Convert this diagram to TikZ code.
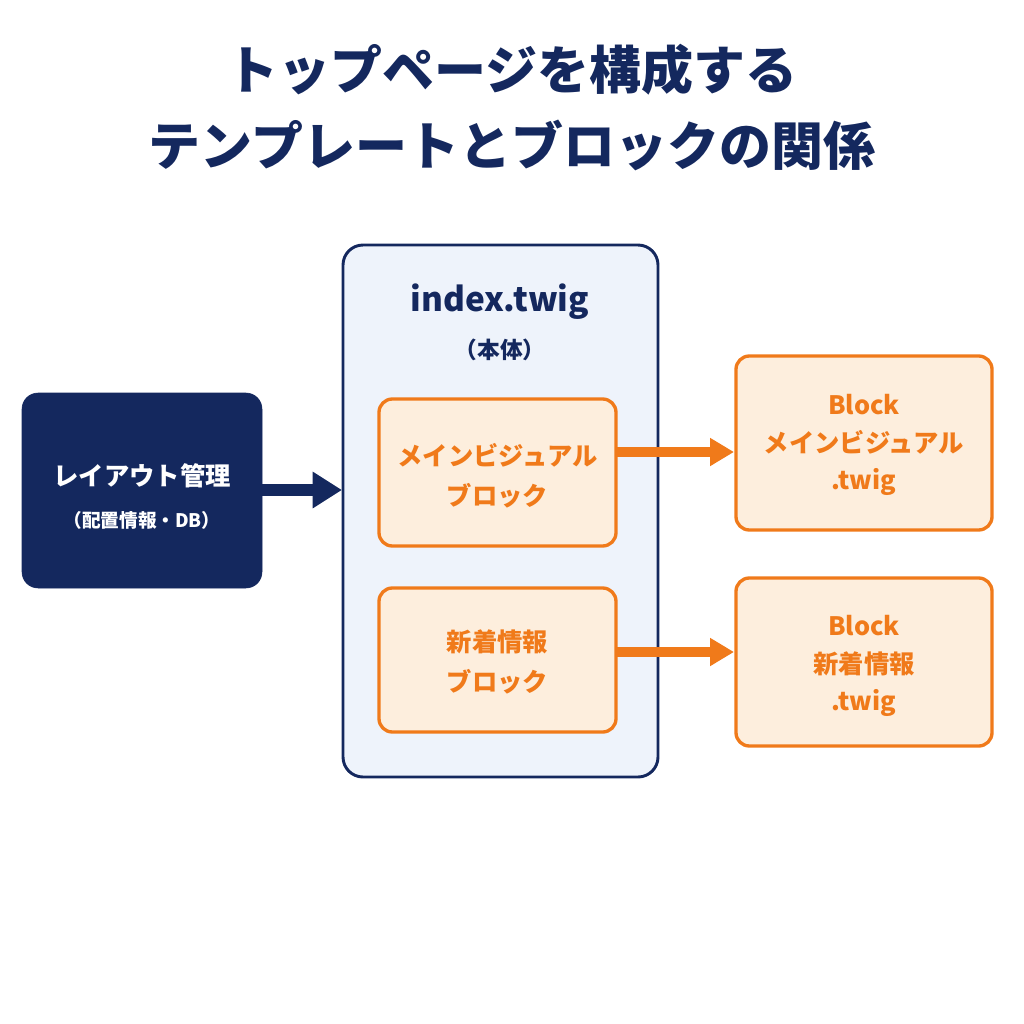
\documentclass[tikz,border=0pt]{standalone}
\usepackage{fontspec}
\setmainfont{Noto Sans CJK JP}
\usetikzlibrary{arrows.meta}
\definecolor{navy}{HTML}{14285E}
\definecolor{orng}{HTML}{F07A1A}
\definecolor{ofill}{HTML}{FDEEDD}
\definecolor{bfill}{HTML}{EEF3FB}
\begin{document}
\begin{tikzpicture}[x=0.75pt,y=-0.75pt,
  obox/.style={draw=orng,fill=ofill,line width=2.5pt,rounded corners=10pt},
  otext/.style={text=orng,font=\bfseries\fontsize{19}{24}\selectfont,align=center},
  oarrow/.style={draw=orng,line width=7pt,-{Triangle[length=18pt,width=20pt]}},
]
\useasboundingbox (0,0) rectangle (1024,1024);
\node[text=navy,font=\bfseries\fontsize{39}{48}\selectfont] (t1) at (512,70) {トップページを構成する};
\node[text=navy,font=\bfseries\fontsize{39}{48}\selectfont] (t2) at (512,145) {テンプレートとブロックの関係};
% left box
\draw[fill=navy,draw=navy,rounded corners=12pt] (22,393) rectangle (262,588);
\node[text=white,font=\bfseries\fontsize{19}{24}\selectfont] (lay) at (142,476) {レイアウト管理};
\node[text=white,font=\bfseries\fontsize{14}{18}\selectfont] (lay2) at (142,520) {（配置情報・DB）};
\coordinate (ls) at (262,490);
% big box
\draw[fill=bfill,draw=navy,line width=2.2pt,rounded corners=15pt] (343,245) rectangle (658,777);
\coordinate (bl) at (342,490);
\node[text=navy,font=\bfseries\fontsize{25}{30}\selectfont] (idx) at (500,302) {index.twig};
\node[text=navy,font=\bfseries\fontsize{17}{22}\selectfont] (hon) at (500,350) {（本体）};
\draw[draw=navy,line width=9pt,-{Triangle[length=22pt,width=26pt]}] (ls) -- (bl);
% inner
\draw[obox] (379,399) rectangle (616,546);
\node[otext] (mv) at (497.5,476) {メインビジュアル\\[6pt]ブロック};
\draw[obox] (379,588) rectangle (616,732);
\node[otext] (nw) at (497.5,662) {新着情報\\[6pt]ブロック};
% right
\draw[obox] (736,356) rectangle (992,530);
\node[otext] (rb1) at (864,445) {Block\\[4pt]メインビジュアル\\[4pt].twig};
\draw[obox] (736,578) rectangle (992,746);
\node[otext] (rb2) at (864,666) {Block\\[4pt]新着情報\\[4pt].twig};
\coordinate (a1s) at (616,452); \coordinate (a1e) at (734,452);
\coordinate (a2s) at (616,652); \coordinate (a2e) at (734,652);
\draw[oarrow] (a1s) -- (a1e);
\draw[oarrow] (a2s) -- (a2e);
\end{tikzpicture}
\end{document}
